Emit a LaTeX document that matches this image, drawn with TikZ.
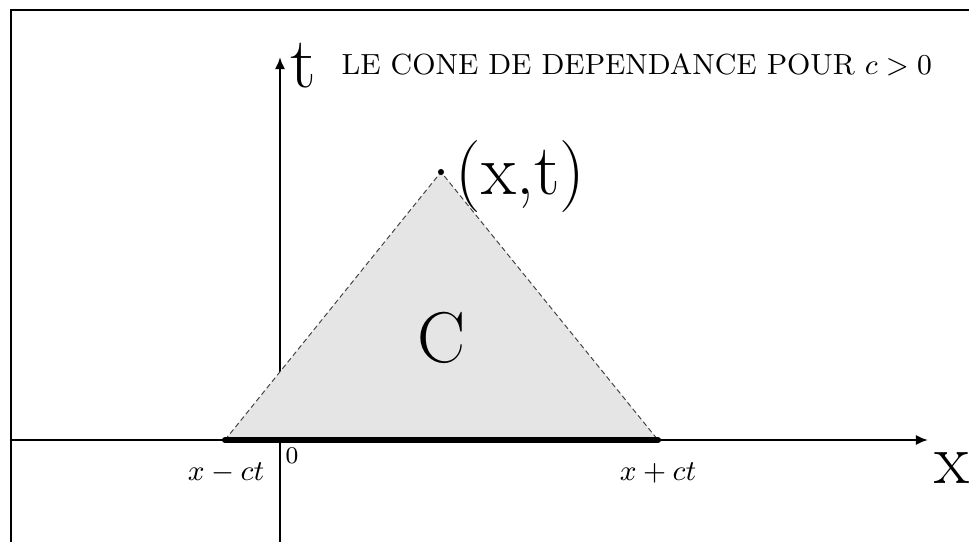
\documentclass[tikz,border=0pt]{standalone}
\usepackage{fontspec}
\usetikzlibrary{arrows.meta}
\begin{document}
\begin{tikzpicture}[x=0.3125pt,y=-0.3125pt,
  axis/.style={line width=0.8pt,-{Latex[length=3.8pt,width=3.2pt]}},
  frameline/.style={line width=0.8pt},
  cone/.style={fill=black!10,draw=black!75,line width=0.3pt,dash pattern=on 1.6pt off 1pt},
  base/.style={line width=1.9pt,line cap=round},
  small/.style={font=\fontsize{9.1}{11}\selectfont,inner sep=0pt},
  tiny/.style={font=\fontsize{7.5}{9}\selectfont,inner sep=0pt},
  big/.style={font=\fontsize{22.5}{27}\selectfont,inner sep=0pt}]
\useasboundingbox (0,0) rectangle (969,542);
\clip (0,0) rectangle (969,542);
\draw[frameline] (11,1000) -- (11,10) -- (1200,10);
% cone
\coordinate (L) at (225,440);
\coordinate (R) at (658,440);
\coordinate (P) at (441,172);
\coordinate (xs) at (11,440);
\coordinate (xe) at (928,440);
\coordinate (ts) at (280,600);
\coordinate (te) at (280,57);
\draw[axis] (xs) -- (xe);
\draw[axis] (ts) -- (te);
\filldraw[cone] (L) -- (P) -- (R) -- cycle;
\draw[base] (L) -- (R);
\fill (P) circle[radius=0.95pt];
% labels
\node[big,anchor=base west] (tlab) at (290,88) {t};
\node[small,anchor=base west] (title) at (341,75) {LE CONE DE DEPENDANCE POUR $c>0$};
\node[big,anchor=base west] (xt) at (455,195) {(x,t)};
\node[big,anchor=base] (C) at (442,363) {C};
\node[tiny,anchor=base west] (zero) at (285,463) {0};
\node[small,anchor=base] (xm) at (226,480) {$x-ct$};
\node[small,anchor=base] (xp) at (658,480) {$x+ct$};
\node[big,anchor=base west] (xlab) at (934,483) {x};
\end{tikzpicture}
\end{document}
